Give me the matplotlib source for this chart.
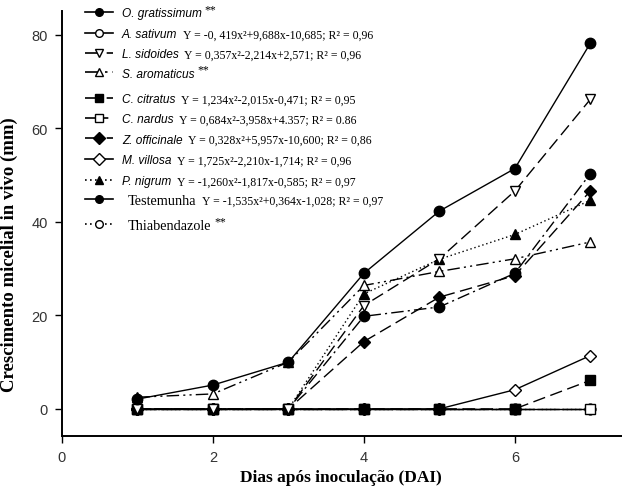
# crescimento micelial in vivo - curvas por tratamento

import matplotlib
matplotlib.use('Agg')
import matplotlib.pyplot as plt
from matplotlib.lines import Line2D

days = [1, 2, 3, 4, 5, 6, 7]

# valores (mm)
testemunha = [2.1, 5.1, 10.0, 29.0, 42.3, 51.4, 78.2]
o_gratissimum = [0, 0, 0, 19.8, 21.8, 29.0, 50.3]
a_sativum = [0, 0, 0, 0, 0, 0, 0]
l_sidoides = [0, 0, 0, 22.1, 32.1, 46.6, 66.2]
s_aromaticus = [2.5, 3.2, 10.0, 26.4, 29.4, 32.1, 35.7]
c_citratus = [0, 0, 0, 0, 0, 0, 6.1]
c_nardus = [0, 0, 0, 0, 0, 0, 0]
z_officinale = [0, 0, 0, 14.4, 23.9, 28.5, 46.6]
m_villosa = [0, 0, 0, 0, 0, 4.1, 11.4]
p_nigrum = [0, 0, 0, 24.6, 32.0, 37.3, 44.6]
thiabendazole = [0, 0, 0, 0, 0, 0, 0]

names = ['O. gratissimum', 'A. sativum', 'L. sidoides', 'S. aromaticus',
         'C. citratus', 'C. nardus', 'Z. officinale', 'M. villosa',
         'P. nigrum', 'Testemunha', 'Thiabendazole']
equations = ['**',
             'Y = -0, 419x²+9,688x-10,685; R² = 0,96',
             'Y = 0,357x²-2,214x+2,571; R² = 0,96',
             '**',
             'Y = 1,234x²-2,015x-0,471; R² = 0,95',
             'Y = 0,684x²-3,958x+4.357; R² = 0.86',
             'Y = 0,328x²+5,957x-10,600; R² = 0,86',
             'Y = 1,725x²-2,210x-1,714; R² = 0,96',
             'Y = -1,260x²-1,817x-0,585; R² = 0,97',
             'Y = -1,535x²+0,364x-1,028; R² = 0,97',
             '**']
series = [o_gratissimum, a_sativum, l_sidoides, s_aromaticus, c_citratus,
          c_nardus, z_officinale, m_villosa, p_nigrum, testemunha, thiabendazole]

longdash = (0, (9, 4))
dashdot = (0, (9, 3, 1.5, 3))
dashdotdot = (0, (9, 3, 1.5, 3, 1.5, 3))
dotted = (0, (1, 2))
styles = [
    dict(marker='o', mfc='black', ls=dashdot),
    dict(marker='o', mfc='white', ls='-'),
    dict(marker='v', mfc='white', ls=longdash),
    dict(marker='^', mfc='white', ls=dashdotdot),
    dict(marker='s', mfc='black', ls=longdash),
    dict(marker='s', mfc='white', ls=(0, (14, 3))),
    dict(marker='D', mfc='black', ls=longdash, ms=6.5),
    dict(marker='D', mfc='white', ls='-', ms=6.5),
    dict(marker='^', mfc='black', ls=dotted),
    dict(marker='o', mfc='black', ls='-'),
    dict(marker='o', mfc='white', ls=dotted),
]
legend_styles = [st.copy() for st in styles]
legend_styles[0]['ls'] = '-'

W, H = 622, 489
fig = plt.figure(figsize=(W / 100, H / 100), dpi=100)
ax = fig.add_axes([62 / W, 1 - 437 / H, 560 / W, 425 / H])

order = [1, 10, 5, 7, 0, 6, 4, 8, 3, 2, 9]
for i in order:
    st = dict(ms=7.5, mec='black', mew=1, color='black', lw=1)
    st.update(styles[i])
    ax.plot(days, series[i], clip_on=False, zorder=3 + order.index(i) * 0.01, **st)

ax.set_xlim(0, 7.42)
ax.set_ylim(-5.8, 85.1)
ax.set_xticks([0, 2, 4, 6])
ax.set_yticks([0, 20, 40, 60, 80])
for s in ['top', 'right']:
    ax.spines[s].set_visible(False)
for s in ['left', 'bottom']:
    ax.spines[s].set_linewidth(1.4)
ax.tick_params(direction='out', length=5, width=1, labelsize=10.5,
               labelcolor='#333333', pad=5)
for lab in ax.get_xticklabels() + ax.get_yticklabels():
    lab.set_fontfamily('Liberation Sans')

ax.set_xlabel('Dias após inoculação (DAI)', fontfamily='Liberation Serif',
              fontweight='bold', fontsize=12.5)
ax.xaxis.set_label_coords(0.498, -0.078)
ax.set_ylabel('Crescimento micelial in vivo (mm)', fontfamily='Liberation Serif',
              fontweight='bold', fontsize=13.5)
ax.yaxis.set_label_coords(-0.079, 0.43)

# legenda manual (fontes misturadas)
rows_y = [13, 34, 54, 73, 99, 119, 139, 160, 181, 200, 225]
for i, name in enumerate(names):
    fy = 1 - rows_y[i] / H
    st = dict(ms=6, mec='black', mew=1, color='black', lw=1.2)
    st.update(legend_styles[i])
    st['ms'] = st['ms'] - 0.5
    fig.add_artist(Line2D([85 / W, 99 / W, 113 / W], [fy, fy, fy],
                          transform=fig.transFigure, markevery=[1], **st))
    if name in ('Testemunha', 'Thiabendazole'):
        t = fig.text(128 / W, fy, name, fontfamily='Liberation Serif',
                     fontsize=10.3, va='center_baseline')
    else:
        t = fig.text(122 / W, fy, name, fontfamily='Liberation Sans',
                     style='italic', fontsize=8.6, va='center_baseline')
    eq = equations[i]
    ax.annotate(eq, xy=(1, 0.5), xycoords=t,
                xytext=(4 if eq != '**' else 2, 0 if eq != '**' else 3),
                textcoords='offset points', va='center',
                fontfamily='Liberation Serif', fontsize=8.5,
                annotation_clip=False)

fig.savefig('out.png', dpi=100)
